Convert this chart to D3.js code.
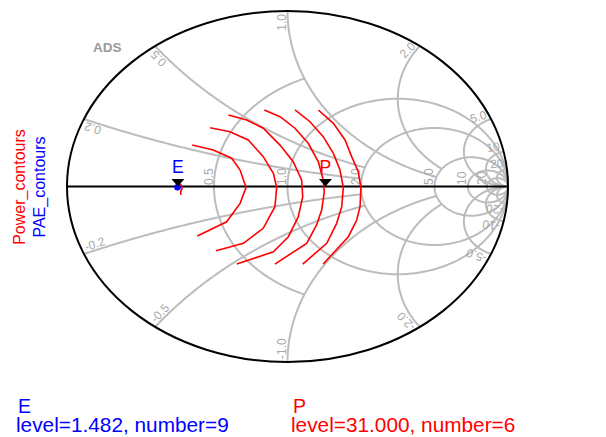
<!DOCTYPE html>
<html>
<head>
<meta charset="utf-8">
<script src="https://cdn.jsdelivr.net/npm/d3@7"></script>
<style>
  body { margin: 0; background: #fff; }
  svg { display: block; }
  text { font-family: "Liberation Sans", Arial, sans-serif; }
</style>
</head>
<body>
<svg id="chart" width="606" height="437"></svg>
<script>
// ---- Smith chart grid (normalised impedance) ----
const resistanceValues = [0.5, 1, 2, 5, 10, 20];
const resistanceReach = [1, Infinity, Infinity, Infinity, Infinity, Infinity]; // |x| limit of each circle
const resistanceLabels = ["0.5", "1.0", "2.0", "5.0", "10", "20"];

const reactanceValues = [0.2, 0.5, 1, 2, 5, 10, 20];
const reactanceReach = [2, 2, 5, 5, Infinity, Infinity, Infinity]; // r limit of each arc
const reactanceLabels = ["0.2", "0.5", "1.0", "2.0", "5.0", "10", "20"];
const negReactanceLabels = ["-0.2", "-0.5", "-1.0", "-2.0", "-5.0", "-10", "-20"];

// ---- load-pull contours, reflection coefficient [re, im] ----
const powerContour1 = [[-0.432, 0.236], [-0.337, 0.208], [-0.253, 0.161], [-0.215, 0.094], [-0.188, -0.005],
  [-0.215, -0.096], [-0.276, -0.201], [-0.409, -0.282]];
const powerContour2 = [[-0.351, 0.335], [-0.261, 0.312], [-0.178, 0.265], [-0.110, 0.170], [-0.064, 0.075],
  [-0.049, -0.005], [-0.057, -0.115], [-0.110, -0.238], [-0.200, -0.324], [-0.324, -0.366]];
const powerContour3 = [[-0.268, 0.407], [-0.185, 0.379], [-0.110, 0.332], [-0.034, 0.236], [0.026, 0.141],
  [0.064, 0.037], [0.069, -0.058], [0.049, -0.172], [0.004, -0.286], [-0.064, -0.372], [-0.230, -0.442]];
const powerContour4 = [[-0.105, 0.436], [-0.034, 0.398], [0.034, 0.332], [0.094, 0.246], [0.140, 0.141],
  [0.162, 0.037], [0.167, -0.030], [0.155, -0.134], [0.132, -0.219], [0.087, -0.324], [-0.057, -0.442]];
const powerContour5 = [[0.034, 0.436], [0.102, 0.369], [0.162, 0.284], [0.208, 0.189], [0.238, 0.094],
  [0.253, -0.005], [0.246, -0.115], [0.223, -0.210], [0.178, -0.324], [0.069, -0.442]];
const powerContour6 = [[0.140, 0.436], [0.208, 0.360], [0.261, 0.265], [0.291, 0.170], [0.321, 0.084],
  [0.333, -0.005], [0.329, -0.115], [0.314, -0.191], [0.276, -0.286], [0.162, -0.442]];
const powerContourStub = [[-0.499, 0.020], [-0.483, 0.009], [-0.478, -0.011], [-0.485, -0.031], [-0.483, -0.048]];
const paeOptimum = [-0.499, -0.004];

// ---- markers and legend ----
const markerNames = ["E", "P"];
const markerRe = [-0.497, 0.172];
const legendNames = ["E", "P"];
const legendTexts = ["level=1.482, number=9", "level=31.000, number=6"];
const sideLegend = ["Power_contours", "PAE_contours"];

const RED = "#ff0000", BLUE = "#0000ff", GRID = "#bcbcbc", GRID_TEXT = "#a8a8a8";

const svg = d3.select("#chart");
const xS = d3.scaleLinear().domain([-1, 1]).range([67, 508]);
const yS = d3.scaleLinear().domain([-1, 1]).range([362, 11]);
const cx = xS(0), cy = yS(0);

function gamma(r, x) {
  const d = (r + 1) * (r + 1) + x * x;
  return [(r * r - 1 + x * x) / d, (2 * x) / d];
}
const line = d3.line().x(d => xS(d[0])).y(d => yS(d[1]));

const grid = svg.append("g").attr("fill", "none").attr("stroke", GRID).attr("stroke-width", 2);

// resistance circles
resistanceValues.forEach((r, i) => {
  const lim = resistanceReach[i];
  const phiMax = isFinite(lim) ? 2 * Math.atan(lim / (1 + r)) : Math.PI;
  const pts = d3.range(0, 241).map(k => {
    const phi = -phiMax + (2 * phiMax) * k / 240;
    return gamma(r, (1 + r) * Math.tan(phi / 2));
  });
  grid.append("path").attr("d", line(pts));
});

// reactance arcs (both signs)
reactanceValues.forEach((x, i) => {
  const lim = reactanceReach[i];
  const tMax = isFinite(lim) ? Math.atan(lim) : Math.PI / 2;
  [1, -1].forEach(s => {
    const pts = d3.range(0, 301).map(k => gamma(Math.tan(tMax * k / 300), s * x));
    grid.append("path").attr("d", line(pts));
  });
});

// outer boundary and real axis
svg.append("ellipse").attr("cx", cx).attr("cy", cy)
  .attr("rx", xS(1) - cx).attr("ry", cy - yS(1))
  .attr("fill", "none").attr("stroke", "#000").attr("stroke-width", 2);
svg.append("line").attr("x1", xS(-1)).attr("x2", xS(1)).attr("y1", cy).attr("y2", cy)
  .attr("stroke", "#000").attr("stroke-width", 2);

// grid labels
const lbl = svg.append("g").attr("fill", GRID_TEXT).attr("font-size", 12);
resistanceValues.forEach((r, i) => {
  const px = xS((r - 1) / (r + 1)) - 1.5, py = cy - 1.5;
  lbl.append("text").attr("transform", `translate(${px},${py}) rotate(-90)`)
    .attr("text-anchor", "start").text(resistanceLabels[i]);
});
reactanceValues.forEach((x, i) => {
  [1, -1].forEach(s => {
    const g = gamma(0, s * x);
    const px = xS(g[0]), py = yS(g[1]);
    const ang = Math.atan2(py - cy, px - cx);
    const qx = px - 3 * Math.cos(ang), qy = py - 3 * Math.sin(ang);
    const deg = ang * 180 / Math.PI;
    lbl.append("text")
      .attr("transform", `translate(${qx},${qy}) rotate(${s > 0 ? deg : deg + 180})`)
      .attr("text-anchor", s > 0 ? "end" : "start")
      .attr("dy", -2)
      .text(s > 0 ? reactanceLabels[i] : negReactanceLabels[i]);
  });
});

svg.append("text").attr("x", 93).attr("y", 52).attr("fill", "#9a9a9a")
  .attr("font-size", 13.5).attr("font-weight", "bold").text("ADS");

// power contours
const contours = [powerContour1, powerContour2, powerContour3, powerContour4, powerContour5, powerContour6, powerContourStub];
svg.append("g").selectAll("path").data(contours).join("path")
  .attr("d", d => line(d)).attr("fill", "none").attr("stroke", RED).attr("stroke-width", 1.6);

// PAE optimum
svg.append("circle").attr("cx", xS(paeOptimum[0])).attr("cy", yS(paeOptimum[1])).attr("r", 3.3).attr("fill", BLUE);

// markers
const markerColors = [BLUE, RED];
markerNames.forEach((m, i) => {
  const mx = xS(markerRe[i]);
  svg.append("path").attr("d", `M${mx - 6.5},${cy - 7.5}L${mx + 6.5},${cy - 7.5}L${mx},${cy}Z`).attr("fill", "#000");
  svg.append("text").attr("x", mx).attr("y", cy - 14).attr("text-anchor", "middle")
    .attr("font-size", 17.5).attr("fill", markerColors[i]).text(m);
});

// rotated legend on the left
const sideColors = [RED, BLUE];
sideLegend.forEach((t, i) => {
  svg.append("text").attr("transform", `translate(${24.5 + 20 * i},187) rotate(-90)`)
    .attr("text-anchor", "middle").attr("font-size", 16).attr("fill", sideColors[i]).text(t);
});

// bottom legend
const legendX = [16, 291];
legendNames.forEach((n, i) => {
  svg.append("text").attr("x", legendX[i] + 2).attr("y", 412.5).attr("font-size", 19.5)
    .attr("fill", markerColors[i]).text(n);
  svg.append("text").attr("x", legendX[i]).attr("y", 431.7).attr("font-size", 20.8)
    .attr("fill", markerColors[i]).text(legendTexts[i]);
});
</script>
</body>
</html>
